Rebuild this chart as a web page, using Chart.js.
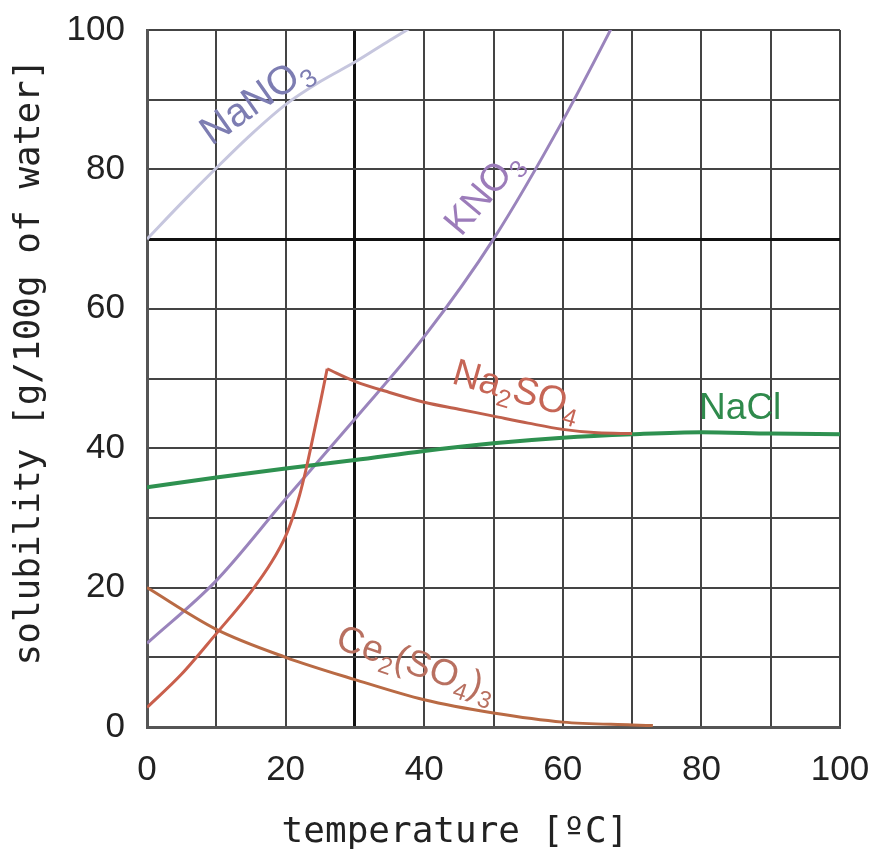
<!DOCTYPE html>
<html>
<head>
<meta charset="utf-8">
<script src="https://cdn.jsdelivr.net/npm/chart.js@4.4.1/dist/chart.umd.min.js"></script>
<style>
  body { margin: 0; background: #fff; }
  canvas { display: block; }
</style>
</head>
<body>
<canvas id="solChart" width="876" height="855"></canvas>
<script>
// solubility curves, temperature in °C, solubility in g/100g water
const nano3Temp = [0, 5, 10, 15, 20, 25, 30, 35, 40];
const nano3Sol  = [70, 75.2, 80.2, 85, 89.3, 92.6, 95.4, 98.5, 101.5];

const kno3Temp = [0, 10, 20, 30, 40, 50, 60, 70];
const kno3Sol  = [12, 21, 32.7, 44.2, 56, 70, 87, 106];

// Na2SO4 rises to a sharp peak near 26°C, then falls
const na2so4RiseTemp = [0, 5, 10, 15, 18, 20, 21, 22, 23, 24, 25, 26];
const na2so4RiseSol  = [2.8, 7.6, 13.4, 19.4, 23.7, 27.4, 30, 33.2, 37.2, 41.8, 46.5, 51.4];
const na2so4FallTemp = [26, 30, 35, 40, 45, 50, 55, 60, 65, 70];
const na2so4FallSol  = [51.4, 49.6, 48, 46.6, 45.6, 44.6, 43.6, 42.7, 42.2, 42.1];

const naclTemp = [0, 10, 20, 30, 40, 50, 60, 70, 80, 90, 100];
const naclSol  = [34.4, 35.8, 37.1, 38.3, 39.6, 40.7, 41.5, 42, 42.3, 42.1, 42];

const ceTemp = [0, 10, 20, 30, 40, 50, 60, 70, 73];
const ceSol  = [20, 14, 10, 6.8, 3.9, 2, 0.7, 0.3, 0.2];

const xTicks = [0, 20, 40, 60, 80, 100];
const yTicks = [0, 20, 40, 60, 80, 100];

function pts(xs, ys) {
  return xs.map((x, i) => ({ x: x, y: ys[i] }));
}

function curve(label, xs, ys, color, width, order) {
  return {
    label: label,
    data: pts(xs, ys),
    borderColor: color,
    borderWidth: width,
    pointRadius: 0,
    cubicInterpolationMode: "monotone",
    fill: false,
    order: order
  };
}

// text drawn onto the curves, [text, subscript?] pieces
const curveLabels = [
  { parts: [["NaNO", 0], ["3", 1]], x: 15.8, y: 89.8, angle: -35, color: "#7d7db2", size: 40 },
  { parts: [["KNO", 0], ["3", 1]], x: 48.6, y: 76.5, angle: -50, color: "#9c7cba", size: 38 },
  { parts: [["Na", 0], ["2", 1], ["SO", 0], ["4", 1]], x: 53.3, y: 48.2, angle: 16, color: "#c66656", size: 38 },
  { parts: [["NaCl", 0]], x: 85.6, y: 45.6, angle: 0, color: "#2f8a4c", size: 37 },
  { parts: [["Ce", 0], ["2", 1], ["(SO", 0], ["4", 1], [")", 0], ["3", 1]], x: 38.8, y: 8.9, angle: 19, color: "#b87060", size: 37 }
];

function drawRich(ctx, parts, cx, cy, angle, size, color) {
  const big = size + 'px "Liberation Sans", Arial, sans-serif';
  const small = Math.round(size * 0.65) + 'px "Liberation Sans", Arial, sans-serif';
  let total = 0;
  const widths = parts.map(p => {
    ctx.font = p[1] ? small : big;
    const w = ctx.measureText(p[0]).width;
    total += w;
    return w;
  });
  ctx.save();
  ctx.translate(cx, cy);
  ctx.rotate(angle * Math.PI / 180);
  ctx.fillStyle = color;
  ctx.textBaseline = "middle";
  ctx.textAlign = "left";
  let x = -total / 2;
  parts.forEach((p, i) => {
    ctx.font = p[1] ? small : big;
    ctx.fillText(p[0], x, p[1] ? size * 0.32 : 0);
    x += widths[i];
  });
  ctx.restore();
}

const labelPlugin = {
  id: "curveLabels",
  afterDatasetsDraw(chart) {
    const ctx = chart.ctx;
    const sx = chart.scales.x, sy = chart.scales.y;
    curveLabels.forEach(l => {
      drawRich(ctx, l.parts, sx.getPixelForValue(l.x), sy.getPixelForValue(l.y), l.angle, l.size, l.color);
    });
    // axis titles
    ctx.save();
    ctx.fillStyle = "#222";
    ctx.font = '36px "DejaVu Sans Mono", monospace';
    ctx.textAlign = "center";
    ctx.textBaseline = "middle";
    ctx.fillText("temperature [ºC]", 455, 833);
    ctx.translate(30, 362);
    ctx.rotate(-Math.PI / 2);
    ctx.fillText("solubility [g/100g of water]", 0, 0);
    ctx.restore();
  }
};

function noPad(s) {
  s.paddingTop = 0;
  s.paddingBottom = 0;
  s.paddingLeft = 0;
  s.paddingRight = 0;
}

new Chart(document.getElementById("solChart"), {
  type: "line",
  data: {
    datasets: [
      curve("NaNO3", nano3Temp, nano3Sol, "#c6c6de", 3, 5),
      curve("KNO3", kno3Temp, kno3Sol, "#9a84bc", 3, 4),
      curve("Na2SO4", na2so4RiseTemp, na2so4RiseSol, "#c95f4c", 3, 1),
      curve("Na2SO4", na2so4FallTemp, na2so4FallSol, "#c0604c", 3, 1),
      curve("NaCl", naclTemp, naclSol, "#2e9150", 4, 2),
      curve("Ce2(SO4)3", ceTemp, ceSol, "#b96a44", 3, 3)
    ]
  },
  options: {
    responsive: false,
    animation: false,
    layout: { autoPadding: false, padding: { top: 30, right: 36, left: 0, bottom: 0 } },
    plugins: {
      legend: { display: false },
      tooltip: { enabled: false }
    },
    scales: {
      x: {
        type: "linear",
        min: 0,
        max: 100,
        afterFit: s => { s.height = 128; noPad(s); },
        afterBuildTicks: s => {
          s.ticks = [];
          for (let v = 0; v <= 100; v += 10) s.ticks.push({ value: v });
        },
        ticks: {
          padding: 22,
          color: "#222",
          font: { family: '"Liberation Sans", Arial, sans-serif', size: 35 },
          callback: v => xTicks.includes(v) ? v : ""
        },
        grid: {
          drawTicks: false,
          color: c => c.tick && c.tick.value === 30 ? "#111" : "#444",
          lineWidth: c => c.tick && c.tick.value === 30 ? 3 : 2
        },
        border: { display: true, color: "#555", width: 3 }
      },
      y: {
        type: "linear",
        min: 0,
        max: 100,
        afterFit: s => { s.width = 147; noPad(s); },
        afterBuildTicks: s => {
          s.ticks = [];
          for (let v = 0; v <= 100; v += 10) s.ticks.push({ value: v });
        },
        ticks: {
          padding: 22,
          color: "#222",
          font: { family: '"Liberation Sans", Arial, sans-serif', size: 35 },
          callback: v => yTicks.includes(v) ? v : ""
        },
        grid: {
          drawTicks: false,
          color: c => c.tick && c.tick.value === 70 ? "#111" : "#444",
          lineWidth: c => c.tick && c.tick.value === 70 ? 3 : 2
        },
        border: { display: true, color: "#555", width: 3 }
      }
    }
  },
  plugins: [labelPlugin]
});
</script>
</body>
</html>
